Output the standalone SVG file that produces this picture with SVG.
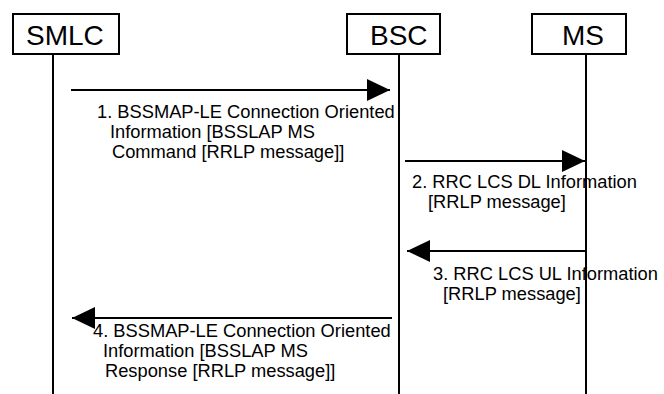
<svg xmlns="http://www.w3.org/2000/svg" width="664" height="394" viewBox="0 0 664 394">
  <style>
    .box { fill: #ffffff; stroke: #000000; stroke-width: 2; }
    .life { stroke: #000000; stroke-width: 2; fill: none; }
    .msg { stroke: #000000; stroke-width: 2; fill: none; marker-end: url(#arrow); }
    .title { font-family: "Liberation Sans", Arial, sans-serif; font-size: 28px; fill: #000000; }
    .label { font-family: "Liberation Sans", Arial, sans-serif; font-size: 18.3px; fill: #000000; }
  </style>
  <defs>
    <marker id="arrow" markerUnits="userSpaceOnUse" markerWidth="23" markerHeight="22" viewBox="0 0 23 22" refX="23" refY="11" orient="auto">
      <path d="M0,0 L23,11 L0,22 Z" fill="#000000"/>
    </marker>
  </defs>
  <rect width="664" height="394" fill="#ffffff"/>

  <g id="SMLC">
    <line class="life" x1="53" y1="54" x2="53" y2="394"/>
    <rect class="box" x="13" y="14" width="106" height="40"/>
    <text class="title" x="26" y="45">SMLC</text>
  </g>
  <g id="BSC">
    <line class="life" x1="399" y1="54" x2="399" y2="394"/>
    <rect class="box" x="347" y="14" width="93" height="40"/>
    <text class="title" x="370" y="45">BSC</text>
  </g>
  <g id="MS">
    <line class="life" x1="586" y1="54" x2="586" y2="394"/>
    <rect class="box" x="532" y="14" width="94" height="40"/>
    <text class="title" x="562" y="45">MS</text>
  </g>

  <g id="connectors">
    <line class="msg" x1="71" y1="90" x2="390" y2="90"/>
    <line class="msg" x1="405" y1="161" x2="585" y2="161"/>
    <line class="msg" x1="586" y1="251" x2="407" y2="251"/>
    <line class="msg" x1="392" y1="318" x2="72" y2="318"/>
  </g>

  <g id="labels">
    <text class="label" x="97" y="118">1. BSSMAP-LE Connection Oriented</text>
    <text class="label" x="110" y="138">Information [BSSLAP MS</text>
    <text class="label" x="112" y="158">Command [RRLP message]]</text>

    <text class="label" x="412" y="188">2. RRC LCS DL Information</text>
    <text class="label" x="428" y="208">[RRLP message]</text>

    <text class="label" x="433" y="280">3. RRC LCS UL Information</text>
    <text class="label" x="443" y="300">[RRLP message]</text>

    <text class="label" x="93" y="337">4. BSSMAP-LE Connection Oriented</text>
    <text class="label" x="103" y="357">Information [BSSLAP MS</text>
    <text class="label" x="105" y="377">Response [RRLP message]]</text>
  </g>
</svg>
